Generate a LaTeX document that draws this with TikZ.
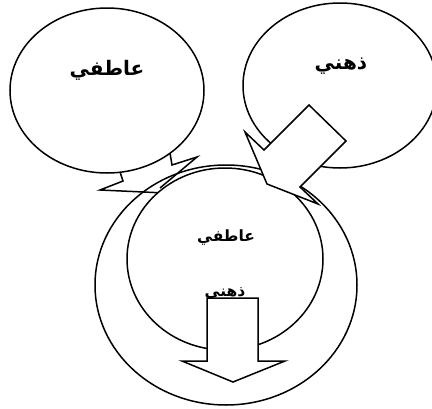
\documentclass[tikz,border=0pt]{standalone}
\usepackage{fontspec}
\newfontfamily\arabicfont[Script=Arabic, BoldFont={DejaVu Sans Bold}]{DejaVu Sans}
\TeXXeTstate=1
\usetikzlibrary{shapes.geometric}
\tikzset{
  bubble/.style={draw, ellipse, line width=1.5pt, inner sep=0pt},
  inbubble/.style={bubble, fill=white},
  bolt/.style={draw, line width=1.5pt, line join=miter},
  blockarrow/.style={draw, fill=white, line width=1.5pt, line join=miter},
  word/.style={font=\arabicfont\bfseries\fontsize{20}{24}\selectfont},
  smallword/.style={font=\arabicfont\bfseries\fontsize{15.5}{19}\selectfont},
}

\begin{document}
\begin{tikzpicture}[x=1pt, y=-1pt]
  \useasboundingbox (0,0) rectangle (432,408);

  % big ring
  \node[bubble, minimum width=262pt, minimum height=240pt] (ring) at (226,285) {};

  % top ellipses
  \node[bubble, minimum width=194pt, minimum height=165pt] (emo) at (107,90.5) {};
  \node[bubble, minimum width=194pt, minimum height=165pt] (mind) at (340,85.5) {};

  % jagged tail of the left ellipse
  \draw[bolt] (120,172) -- (123,181) -- (100,190) -- (165,193);
  \draw[bolt] (170,153) -- (172,165) -- (197,157) -- (160,188);

  % inner circle
  \node[inbubble, minimum width=196pt, minimum height=182pt] (core) at (225,259) {};

  % texts
  \node[word] (emotxt) at (107,70) {\beginR عاطفي\endR};
  \node[word] (mindtxt) at (341,66) {\beginR ذهني\endR};
  \node[smallword] (coretxt1) at (226,237) {\beginR عاطفي\endR};
  \node[smallword] (coretxt2) at (225,293.5) {\beginR ذهني\endR};

  % arrow from the right ellipse
  \draw[blockarrow] (309,105) -- (346,141) -- (300,187) -- (318,204)
    -- (267,184) -- (245,132) -- (264,150) -- cycle;

  % arrow out of the core
  \draw[blockarrow] (207,298) -- (258,298) -- (258,361) -- (285,361)
    -- (233,382) -- (182,361) -- (207,361) -- cycle;
\end{tikzpicture}
\end{document}
